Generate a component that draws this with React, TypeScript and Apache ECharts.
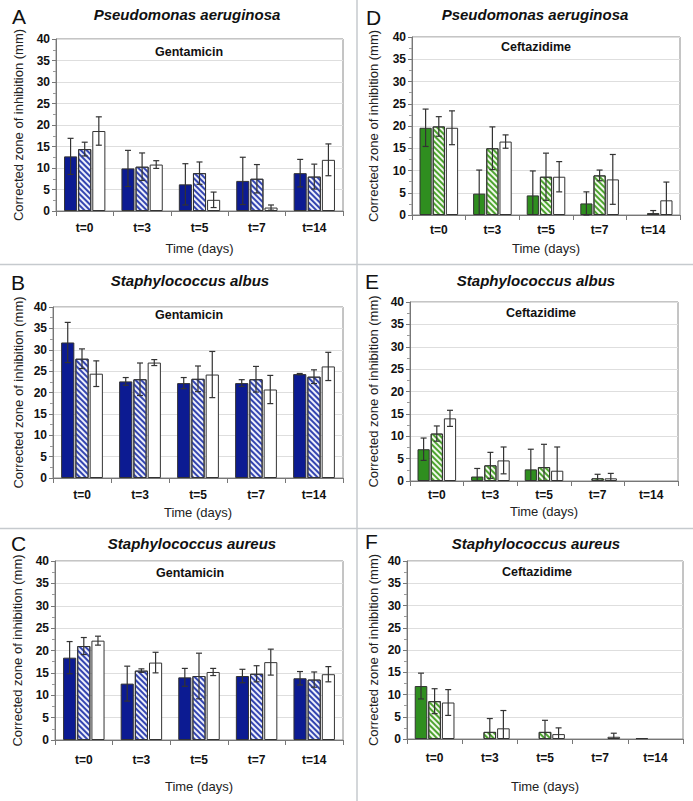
import React, { useEffect, useRef } from 'react';
import * as echarts from 'echarts';

const categories = ['t=0', 't=3', 't=5', 't=7', 't=14'];

// A – Gentamicin, Pseudomonas aeruginosa
const aSolid = [12.7, 9.9, 6.2, 7.0, 8.8];
const aSolidErr = [4.2, 4.2, 4.8, 5.5, 3.2];
const aHatch = [14.4, 10.3, 8.8, 7.5, 8.0];
const aHatchErr = [1.6, 3.2, 2.6, 3.3, 2.9];
const aWhite = [18.6, 10.8, 2.6, 0.8, 11.9];
const aWhiteErr = [3.3, 0.9, 1.8, 0.6, 3.7];

// B – Gentamicin, Staphylococcus albus
const bSolid = [31.7, 22.6, 22.2, 22.2, 24.3];
const bSolidErr = [4.7, 0.9, 1.3, 0.8, 0.15];
const bHatch = [27.9, 23.1, 23.2, 23.1, 23.7];
const bHatchErr = [2.3, 3.8, 3.0, 3.0, 1.6];
const bWhite = [24.4, 27.0, 24.2, 20.7, 26.1];
const bWhiteErr = [3.0, 0.7, 5.4, 3.3, 3.3];

// C – Gentamicin, Staphylococcus aureus
const cSolid = [18.4, 12.6, 14.0, 14.3, 13.8];
const cSolidErr = [3.6, 3.9, 2.0, 1.5, 1.5];
const cHatch = [21.0, 15.5, 14.3, 14.8, 13.5];
const cHatchErr = [1.9, 0.4, 5.1, 1.8, 1.7];
const cWhite = [22.2, 17.3, 15.2, 17.4, 14.7];
const cWhiteErr = [1.0, 2.3, 0.8, 2.9, 1.7];

// D – Ceftazidime, Pseudomonas aeruginosa
const dSolid = [19.6, 4.8, 4.4, 2.6, 0];
const dSolidErr = [4.2, 5.3, 5.5, 2.6, 0];
const dHatch = [19.9, 15.0, 8.6, 8.9, 0.4];
const dHatchErr = [2.2, 4.8, 5.3, 1.2, 0.6];
const dWhite = [19.6, 16.5, 8.6, 8.0, 3.3];
const dWhiteErr = [3.8, 1.5, 3.4, 5.6, 4.1];

// E – Ceftazidime, Staphylococcus albus
const eSolid = [7.1, 1.0, 2.6, 0, 0];
const eSolidErr = [2.5, 1.8, 4.5, 0, 0];
const eHatch = [10.6, 3.5, 3.1, 0.6, 0];
const eHatchErr = [1.7, 2.9, 5.1, 0.9, 0];
const eWhite = [14.0, 4.6, 2.3, 0.6, 0];
const eWhiteErr = [1.8, 3.0, 5.3, 1.1, 0];

// F – Ceftazidime, Staphylococcus aureus
const fSolid = [11.9, 0, 0, 0, 0.2];
const fSolidErr = [2.9, 0, 0, 0, 0];
const fHatch = [8.5, 1.6, 1.6, 0, 0];
const fHatchErr = [2.8, 3.0, 2.6, 0, 0];
const fWhite = [8.2, 2.4, 1.1, 0.5, 0];
const fWhiteErr = [2.9, 4.0, 1.4, 0.8, 0];

const FONT = '"Liberation Sans", Arial, sans-serif';
const CAT_GAP = 0.28;
const BAR_GAP = 0.08;

type Panel = {
  letter: string;
  species: string;
  drug: string;
  scheme: 'blue' | 'green';
  bars: number[][][];
  grid: { left: number; top: number; width: number; height: number };
  letterPos: [number, number];
  speciesPos: [number, number];
  drugPos: [number, number];
  xLabelMargin: number;
  xNameGap: number;
  yNameGap: number;
};

const panels: Panel[] = [
  {
    letter: 'A', species: 'Pseudomonas aeruginosa', drug: 'Gentamicin', scheme: 'blue',
    bars: [[aSolid, aSolidErr], [aHatch, aHatchErr], [aWhite, aWhiteErr]],
    grid: { left: 56, top: 39, width: 287, height: 172 },
    letterPos: [12, 16], speciesPos: [187, 14], drugPos: [189, 52],
    xLabelMargin: 11, xNameGap: 31, yNameGap: 31,
  },
  {
    letter: 'B', species: 'Staphylococcus albus', drug: 'Gentamicin', scheme: 'blue',
    bars: [[bSolid, bSolidErr], [bHatch, bHatchErr], [bWhite, bWhiteErr]],
    grid: { left: 53, top: 307, width: 290, height: 171 },
    letterPos: [11, 282], speciesPos: [190, 280], drugPos: [189, 315],
    xLabelMargin: 11, xNameGap: 28, yNameGap: 28,
  },
  {
    letter: 'C', species: 'Staphylococcus aureus', drug: 'Gentamicin', scheme: 'blue',
    bars: [[cSolid, cSolidErr], [cHatch, cHatchErr], [cWhite, cWhiteErr]],
    grid: { left: 55, top: 561, width: 288, height: 179 },
    letterPos: [11, 543], speciesPos: [192, 543], drugPos: [190, 573],
    xLabelMargin: 14, xNameGap: 40, yNameGap: 31,
  },
  {
    letter: 'D', species: 'Pseudomonas aeruginosa', drug: 'Ceftazidime', scheme: 'green',
    bars: [[dSolid, dSolidErr], [dHatch, dHatchErr], [dWhite, dWhiteErr]],
    grid: { left: 412, top: 37, width: 268, height: 178 },
    letterPos: [366, 17], speciesPos: [535, 14], drugPos: [536, 47],
    xLabelMargin: 9, xNameGap: 27, yNameGap: 32,
  },
  {
    letter: 'E', species: 'Staphylococcus albus', drug: 'Ceftazidime', scheme: 'green',
    bars: [[eSolid, eSolidErr], [eHatch, eHatchErr], [eWhite, eWhiteErr]],
    grid: { left: 410, top: 302, width: 268, height: 179 },
    letterPos: [365, 281], speciesPos: [536, 280], drugPos: [541, 313],
    xLabelMargin: 8, xNameGap: 24, yNameGap: 30,
  },
  {
    letter: 'F', species: 'Staphylococcus aureus', drug: 'Ceftazidime', scheme: 'green',
    bars: [[fSolid, fSolidErr], [fHatch, fHatchErr], [fWhite, fWhiteErr]],
    grid: { left: 407, top: 561, width: 276, height: 178 },
    letterPos: [365, 541], speciesPos: [536, 543], drugPos: [537, 572],
    xLabelMargin: 13, xNameGap: 41, yNameGap: 27,
  },
];

const schemes = {
  blue: { solid: '#0c1b92', stripe: '#3445b0', stripeBg: '#eef0fb' },
  green: { solid: '#2f8e1f', stripe: '#4ea431', stripeBg: '#f2f9ec' },
};

export default function App() {
  const ref = useRef<HTMLDivElement>(null);
  useEffect(() => {
    if (!ref.current) return;
    const chart = echarts.init(ref.current, undefined, { renderer: 'svg' });

    const grids: any[] = [];
    const xAxes: any[] = [];
    const yAxes: any[] = [];
    const series: any[] = [];
    const graphics: any[] = [];

    graphics.push(
      { type: 'line', shape: { x1: 0, y1: 264.5, x2: 693, y2: 264.5 }, style: { stroke: '#c6cace', lineWidth: 1.5 } },
      { type: 'line', shape: { x1: 0, y1: 528.5, x2: 693, y2: 528.5 }, style: { stroke: '#c6cace', lineWidth: 1.5 } },
      { type: 'line', shape: { x1: 357, y1: 0, x2: 357, y2: 801 }, style: { stroke: '#c6cace', lineWidth: 1.5 } },
    );

    panels.forEach((p, i) => {
      const sc = schemes[p.scheme];
      grids.push({ ...p.grid, show: true, borderColor: '#8a8a8a', borderWidth: 1, containLabel: false });
      xAxes.push({
        type: 'category', gridIndex: i, data: categories,
        axisLine: { lineStyle: { color: '#777' } },
        axisTick: { show: true, length: 5, lineStyle: { color: '#777' } },
        axisLabel: { fontFamily: FONT, fontWeight: 'bold', fontSize: 12, color: '#111', margin: p.xLabelMargin },
        name: 'Time (days)', nameLocation: 'middle', nameGap: p.xNameGap,
        nameTextStyle: { fontFamily: FONT, fontSize: 13, color: '#222' },
      });
      yAxes.push({
        type: 'value', gridIndex: i, min: 0, max: 40, interval: 5,
        axisLine: { show: true, lineStyle: { color: '#777' } },
        axisTick: { show: true, length: 4, lineStyle: { color: '#777' } },
        minorTick: { show: true, splitNumber: 2, length: 3, lineStyle: { color: '#999' } },
        splitLine: { show: true, lineStyle: { color: '#dedede' } },
        axisLabel: { fontFamily: FONT, fontWeight: 'bold', fontSize: 12, color: '#111', margin: 6 },
        name: 'Corrected zone of inhibition (mm)', nameLocation: 'middle', nameGap: p.yNameGap,
        nameTextStyle: { fontFamily: FONT, fontSize: 13, color: '#222' },
      });

      const styles = [
        { color: sc.solid, borderColor: '#333', borderWidth: 1 },
        {
          color: sc.stripeBg, borderColor: '#333', borderWidth: 1,
          decal: {
            symbol: 'rect', symbolSize: 1, color: sc.stripe,
            dashArrayX: [1, 0], dashArrayY: [2, 2], rotation: Math.PI / 4,
          },
        },
        { color: '#ffffff', borderColor: '#333', borderWidth: 1 },
      ];

      const errData: number[][] = [];
      p.bars.forEach(([vals, errs], b) => {
        series.push({
          type: 'bar', xAxisIndex: i, yAxisIndex: i,
          data: vals.map((v) => (v === 0 ? { value: 0, itemStyle: { borderWidth: 0 } } : v)),
          barGap: `${BAR_GAP * 100}%`, barCategoryGap: `${CAT_GAP * 100}%`,
          itemStyle: styles[b], silent: true,
        });
        vals.forEach((v, c) => {
          const e = errs[c];
          if (e > 0) {
            errData.push([c, Math.max(0, v - e), v + e, b, v - e >= 0 ? 1 : 0]);
          }
        });
      });

      series.push({
        type: 'custom', xAxisIndex: i, yAxisIndex: i, data: errData, z: 10, silent: true,
        encode: { x: 0, y: [1, 2] },
        renderItem: (params: any, api: any) => {
          const c = api.value(0);
          const low = api.value(1);
          const high = api.value(2);
          const b = api.value(3);
          const lowCap = api.value(4);
          const catW = api.size([1, 0])[0];
          const bw = (catW * (1 - CAT_GAP)) / (3 + 2 * BAR_GAP);
          const off = (b - 1) * bw * (1 + BAR_GAP);
          const pH = api.coord([c, high]);
          const pL = api.coord([c, low]);
          const x = pH[0] + off;
          const cw = 3;
          const st = { stroke: '#333', lineWidth: 1.2 };
          const children: any[] = [
            { type: 'line', shape: { x1: x, y1: pH[1], x2: x, y2: pL[1] }, style: st },
            { type: 'line', shape: { x1: x - cw, y1: pH[1], x2: x + cw, y2: pH[1] }, style: st },
          ];
          if (lowCap) {
            children.push({ type: 'line', shape: { x1: x - cw, y1: pL[1], x2: x + cw, y2: pL[1] }, style: st });
          }
          return { type: 'group', children };
        },
      });

      graphics.push(
        {
          type: 'text', x: p.letterPos[0], y: p.letterPos[1],
          style: { text: p.letter, font: `21px ${FONT}`, fill: '#111', textAlign: 'left', textVerticalAlign: 'middle' },
        },
        {
          type: 'text', x: p.speciesPos[0], y: p.speciesPos[1],
          style: { text: p.species, font: `italic bold 15px ${FONT}`, fill: '#111', textAlign: 'center', textVerticalAlign: 'middle' },
        },
        {
          type: 'text', x: p.drugPos[0], y: p.drugPos[1], z: 20,
          style: { text: p.drug, font: `bold 12.5px ${FONT}`, fill: '#111', textAlign: 'center', textVerticalAlign: 'middle' },
        },
      );
    });

    chart.setOption({
      animation: false,
      backgroundColor: '#ffffff',
      grid: grids,
      xAxis: xAxes,
      yAxis: yAxes,
      series,
      graphic: graphics,
    });
    return () => chart.dispose();
  }, []);
  return (
    <div
      ref={ref}
      style={{ position: 'absolute', left: 0, top: 0, width: 693, height: 801 }}
    />
  );
}
